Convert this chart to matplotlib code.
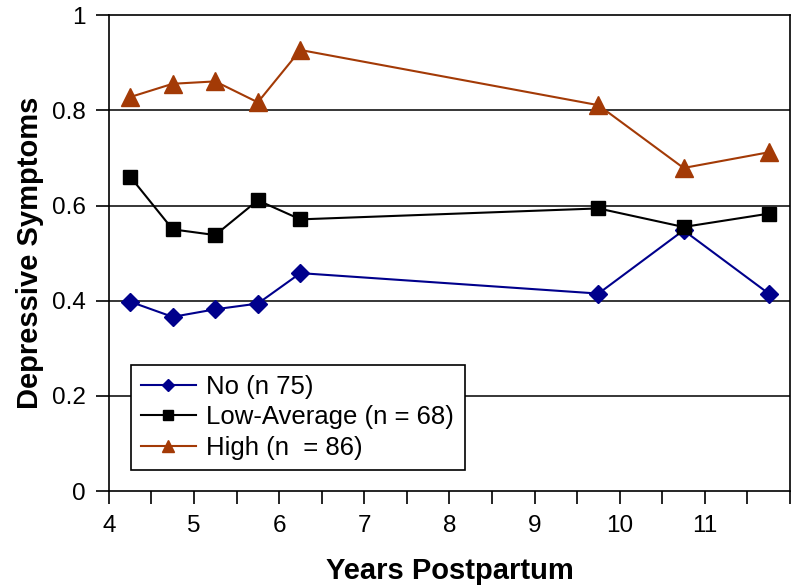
import numpy as np
import matplotlib
matplotlib.use("Agg")
import matplotlib.pyplot as plt

plt.rcParams['font.family'] = ['Liberation Sans', 'DejaVu Sans']

# years postpartum at each assessment
years = [4.25, 4.75, 5.25, 5.75, 6.25, 9.75, 10.75, 11.75]

# mean depressive symptoms per group
no_group = [0.398, 0.366, 0.382, 0.394, 0.458, 0.415, 0.548, 0.415]
low_avg = [0.661, 0.550, 0.538, 0.611, 0.571, 0.594, 0.555, 0.583]
high_group = [0.828, 0.856, 0.861, 0.817, 0.927, 0.811, 0.679, 0.712]

labels = ['No (n 75)', 'Low-Average (n = 68)', 'High (n  = 86)']

fig = plt.figure(figsize=(8, 5.87), dpi=100)
ax = fig.add_axes([0.136, 0.1635, 0.8515, 0.8105])

ax.plot(years, no_group, color='#00008C', marker='D', markersize=9,
        linewidth=1.5, label=labels[0], zorder=3)
ax.plot(years, low_avg, color='black', marker='s', markersize=10.5,
        linewidth=1.5, label=labels[1], zorder=3)
ax.plot(years, high_group, color='#A33A06', marker='^', markersize=12.5,
        linewidth=1.5, label=labels[2], zorder=3)

ax.set_xlim(4, 12)
ax.set_ylim(0, 1)
xt = np.arange(4, 12.01, 0.5)
ax.set_xticks(xt)
ax.set_xticklabels([str(int(v)) if v == int(v) and v < 12 else '' for v in xt])
ax.set_yticks([0, 0.2, 0.4, 0.6, 0.8, 1.0])
ax.set_yticklabels(['0', '0.2', '0.4', '0.6', '0.8', '1'])
ax.tick_params(direction='out', length=9.5, width=1.2, labelsize=17.5)
ax.tick_params(axis='x', pad=8)
ax.tick_params(axis='y', pad=7)

for y in [0.2, 0.4, 0.6, 0.8]:
    ax.axhline(y, color='black', linewidth=1.1, zorder=1)
for s in ax.spines.values():
    s.set_linewidth(1.2)

ax.set_xlabel('Years Postpartum', fontsize=21, fontweight='bold', labelpad=14)
ax.set_ylabel('Depressive Symptoms', fontsize=21, fontweight='bold', labelpad=6)

leg = ax.legend(loc='lower left', bbox_to_anchor=(0.032, 0.044), fontsize=18.5,
                frameon=True, fancybox=False, edgecolor='black', framealpha=1,
                borderaxespad=0, handlelength=2.15, handletextpad=0.4,
                labelspacing=0.25, borderpad=0.4, markerscale=0.65)
leg.get_frame().set_linewidth(1.2)

fig.savefig('out.png', dpi=100)
